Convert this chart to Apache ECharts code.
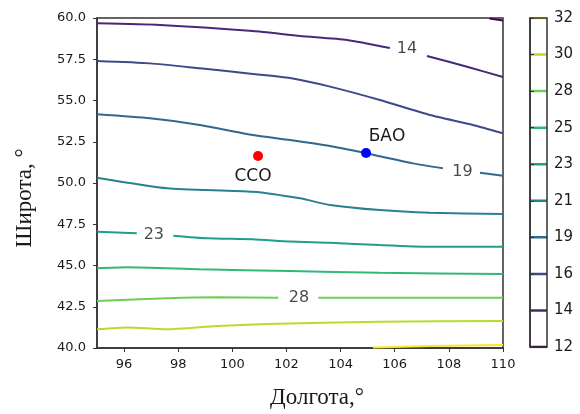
<!DOCTYPE html>
<html>
<head>
<meta charset="utf-8">
<script src="https://cdn.jsdelivr.net/npm/echarts@6.0.0/dist/echarts.min.js"></script>
<style>
  html, body { margin: 0; padding: 0; background: #fff; }
  #chart { width: 580px; height: 414px; }
</style>
</head>
<body>
<div id="chart"></div>
<script>
// долгота / широта, оси
const xTicks = [96, 98, 100, 102, 104, 106, 108, 110];
const levelLabels = ['12', '14', '16', '19', '21', '23', '25', '28', '30', '32'];

// изолинии: [долгота, широта], разрывы там где стоят подписи
const c12 = [[[109.5, 59.97], [110, 59.85]]];
const c14 = [
  [[95, 59.68], [97.33, 59.58], [100.76, 59.21], [102.5, 58.91], [104.24, 58.67], [105.82, 58.18]],
  [[107.19, 57.70], [108.67, 57.05], [110, 56.42]]
];
const c16 = [[[95, 57.39], [96.96, 57.25], [98.8, 56.95], [100.76, 56.61], [102.13, 56.36], [103.61, 55.84], [105.45, 55.03], [107.3, 54.12], [108.89, 53.52], [110, 53.01]]];
const c19 = [
  [[95, 54.16], [96.96, 53.92], [98.8, 53.52], [100.76, 52.91], [102.13, 52.61], [103.61, 52.24], [104.94, 51.8], [106.67, 51.19], [107.78, 50.89]],
  [[109.15, 50.62], [110, 50.44]]
];
const c21 = [[[95, 50.32], [97.59, 49.68], [100.76, 49.47], [102.5, 49.07], [103.61, 48.67], [105.45, 48.36], [107.3, 48.2], [110, 48.12]]];
const c23 = [
  [[95, 47.05], [96.47, 46.95]],
  [[97.82, 46.81], [99.05, 46.65], [100.76, 46.59], [102.13, 46.45], [103.61, 46.38], [105.45, 46.24], [107.3, 46.14], [110, 46.14]]
];
const c25 = [[[95, 44.83], [96.1, 44.89], [98.8, 44.77], [102.13, 44.67], [105.45, 44.56], [110, 44.48]]];
const c28 = [
  [[95, 42.85], [97.57, 43.01], [99.42, 43.07], [101.7, 43.05]],
  [[103.18, 43.05], [110, 43.05]]
];
const c30 = [[[95, 41.13], [96.1, 41.25], [97.57, 41.13], [99.42, 41.33], [101.27, 41.45], [105.45, 41.59], [110, 41.64]]];
const c32 = [[[105.2, 40.03], [107.3, 40.12], [110, 40.18]]];

// подписи изолиний
const contourLabels = [[106.45, 58.15, '14'], [108.5, 50.68, '19'], [97.1, 46.85, '23'], [102.46, 43.02, '28']];

// станции
const stationSSO = [100.95, 51.64];
const stationBAO = [104.94, 51.82];

const contours = [c12, c14, c16, c19, c21, c23, c25, c28, c30, c32];
// viridis
const levelColors = ['#440154', '#482878', '#3e4989', '#31688e', '#26828e',
                     '#1f9e89', '#35b779', '#6ece58', '#b5de2b', '#fde725'];

const chart = echarts.init(document.getElementById('chart'));
const txt = '#1a1a1a';
const sans = 'DejaVu Sans';

const series = [];
contours.forEach((segs, i) => {
  segs.forEach(seg => {
    series.push({
      type: 'line',
      xAxisIndex: 0,
      yAxisIndex: 0,
      data: seg,
      symbol: 'none',
      smooth: 0.2,
      silent: true,
      lineStyle: { color: levelColors[i], width: 2 },
      z: 2
    });
  });
});

// цветовая шкала (под рамкой)
levelLabels.forEach((l, i) => {
  series.push({
    type: 'line',
    xAxisIndex: 1,
    yAxisIndex: 1,
    data: [[0, i], [1, i]],
    symbol: 'none',
    silent: true,
    lineStyle: { color: levelColors[i], width: 2.5 },
    z: -1
  });
});

series.push({
  type: 'scatter',
  xAxisIndex: 0,
  yAxisIndex: 0,
  data: contourLabels,
  symbolSize: 0,
  silent: true,
  label: {
    show: true,
    position: 'inside',
    formatter: p => p.value[2],
    color: txt,
    fontFamily: sans,
    fontSize: 16
  },
  z: 5
});

series.push({
  type: 'scatter',
  data: [stationSSO],
  symbolSize: 10,
  itemStyle: { color: '#ff0000', opacity: 1 },
  label: {
    show: true,
    position: 'bottom',
    distance: 7,
    offset: [-5, 0],
    formatter: 'ССО',
    color: txt,
    fontFamily: sans,
    fontSize: 17
  },
  z: 6
});

series.push({
  type: 'scatter',
  data: [stationBAO],
  symbolSize: 10,
  itemStyle: { color: '#0000ff', opacity: 1 },
  label: {
    show: true,
    position: 'top',
    distance: 3,
    offset: [21, 0],
    formatter: 'БАО',
    color: txt,
    fontFamily: sans,
    fontSize: 17
  },
  z: 6
});

const option = {
  backgroundColor: '#fff',
  animation: false,
  grid: [
    { left: 97, top: 18, width: 406, height: 330, show: true, borderColor: '#333', borderWidth: 1.5 },
    { left: 530, top: 18, width: 17, height: 329, show: true, borderColor: '#333', borderWidth: 1.5 }
  ],
  xAxis: [
    {
      gridIndex: 0,
      type: 'value',
      min: 95,
      max: 110,
      interval: 1,
      axisLine: { show: true, lineStyle: { color: '#333', width: 1.5 } },
      axisTick: { show: true, length: 4, customValues: xTicks, lineStyle: { color: '#333' } },
      axisLabel: { customValues: xTicks, color: txt, fontFamily: sans, fontSize: 13, margin: 10 },
      splitLine: { show: false }
    },
    {
      gridIndex: 1,
      type: 'value',
      min: 0,
      max: 1,
      show: false
    }
  ],
  yAxis: [
    {
      gridIndex: 0,
      type: 'value',
      min: 40,
      max: 60,
      interval: 2.5,
      axisLine: { show: true, lineStyle: { color: '#333', width: 1.5 } },
      axisTick: { show: true, length: 4, lineStyle: { color: '#333' } },
      axisLabel: { formatter: v => v.toFixed(1), color: txt, fontFamily: sans, fontSize: 13, margin: 11 },
      splitLine: { show: false }
    },
    {
      gridIndex: 1,
      type: 'value',
      position: 'right',
      min: 0,
      max: 9,
      interval: 1,
      axisLine: { show: true, lineStyle: { color: '#333', width: 1.5 } },
      axisTick: { show: true, length: 4, lineStyle: { color: '#333' } },
      axisLabel: { formatter: v => levelLabels[v], color: txt, fontFamily: sans, fontSize: 15, margin: 7 },
      splitLine: { show: false }
    }
  ],
  graphic: [
    {
      type: 'text',
      x: 25,
      y: 198,
      rotation: Math.PI / 2,
      style: {
        text: 'Широта, °',
        fill: txt,
        font: '23px "Liberation Serif"',
        textAlign: 'center',
        textVerticalAlign: 'middle'
      }
    },
    {
      type: 'text',
      x: 317,
      y: 398,
      style: {
        text: 'Долгота,°',
        fill: txt,
        font: '23px "Liberation Serif"',
        textAlign: 'center',
        textVerticalAlign: 'middle'
      }
    }
  ],
  series: series
};

option && chart.setOption(option);
</script>
</body>
</html>
